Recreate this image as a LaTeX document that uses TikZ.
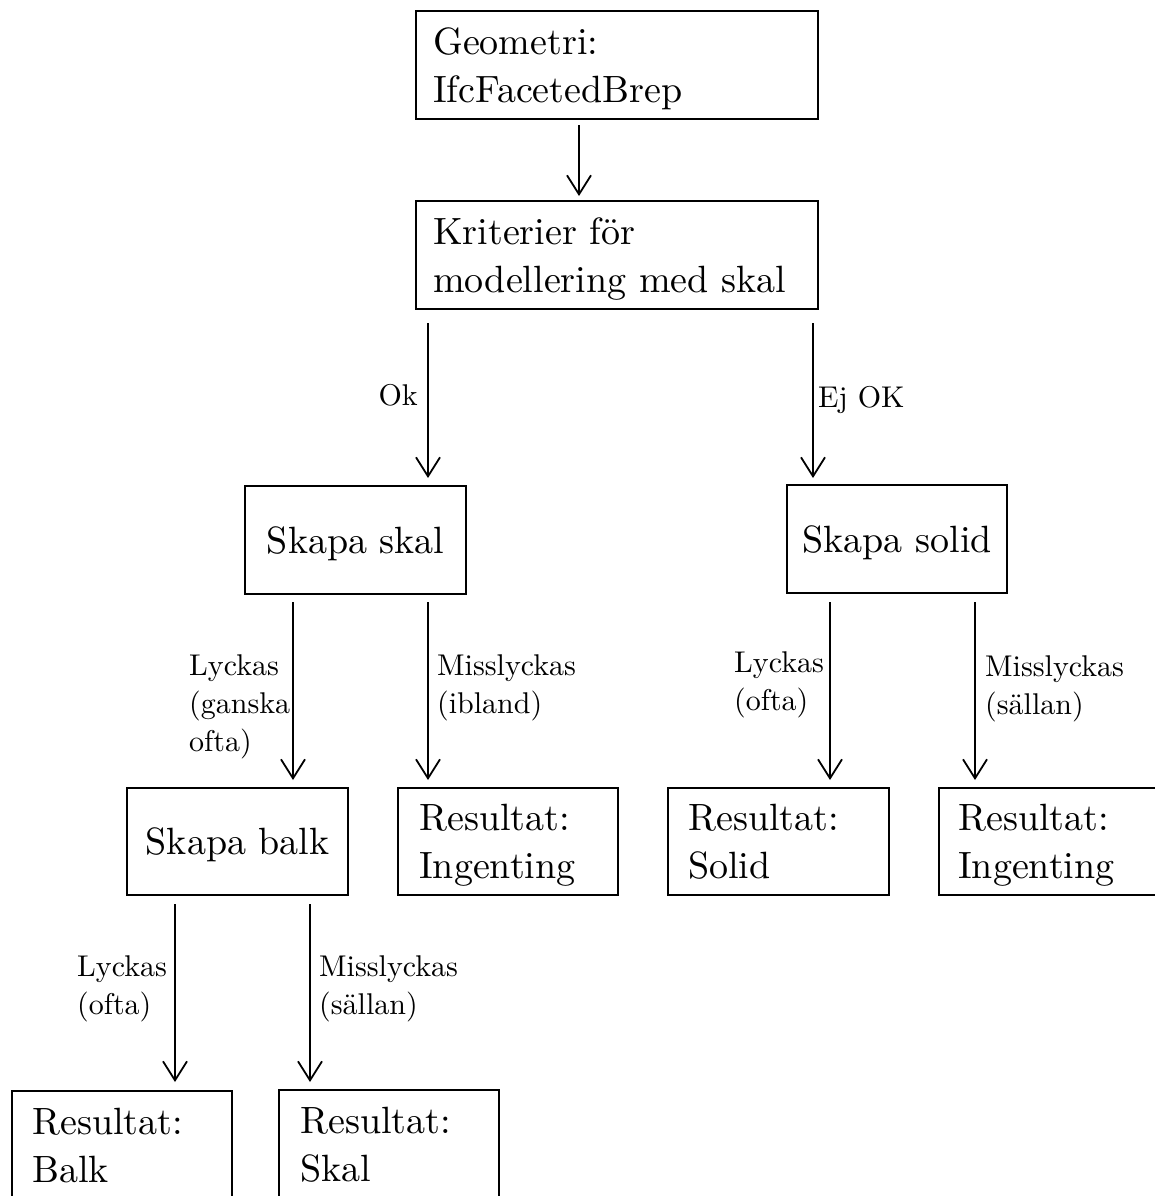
\documentclass[tikz,border=0pt]{standalone}
\usepackage{fontspec}
\setmainfont{lmroman10-regular}[Extension=.otf]
\usetikzlibrary{arrows.meta,calc}
% struts that fix the first baseline and the last depth of box texts
\newcommand\hiStrut{\rule{0pt}{36pt}}
\newcommand\loStrut{\rule[-10pt]{0pt}{10pt}}
\newcommand\lblStrut{\rule{0pt}{22pt}}
\begin{document}
\begin{tikzpicture}[x=1pt,y=-1pt,
  box/.style={draw, line width=2.4pt, anchor=north west, inner ysep=0pt,
    font=\fontsize{38}{48}\selectfont},
  leftbox/.style 2 args={box, align=left, inner xsep=#2, text width=#1-2*#2,
    minimum width=#1},
  midbox/.style={box, align=center, inner xsep=0pt},
  lbl/.style={inner sep=0pt, align=left, font=\fontsize{30}{38}\selectfont},
  arr/.style={line width=1.8pt, -{Straight Barb[length=19pt,width=24pt,line width=1.8pt]}}
]
\useasboundingbox (0,0) rectangle (1154,1196);

% boxes
\node[leftbox={402pt}{17pt}, minimum height=108pt] (geo) at (415,10)
  {\hiStrut Geometri:\\IfcFacetedBrep\loStrut};
\node[leftbox={402pt}{17pt}, minimum height=108pt] (kr) at (415,200)
  {\hiStrut Kriterier för\\modellering med skal\loStrut};
\node[midbox, minimum width=221pt, minimum height=108pt] (skal) at (244,485)
  {\hiStrut Skapa skal\loStrut};
\node[midbox, minimum width=220pt, minimum height=108pt] (solid) at (786,484)
  {\hiStrut Skapa solid\loStrut};
\node[midbox, minimum width=221pt, minimum height=107pt] (balk) at (126,787)
  {\hiStrut Skapa balk\loStrut};
\node[leftbox={220pt}{21pt}, minimum height=107pt] (ing1) at (397,787)
  {\hiStrut Resultat:\\Ingenting\loStrut};
\node[leftbox={221pt}{20pt}, minimum height=107pt] (sol) at (667,787)
  {\hiStrut Resultat:\\Solid\loStrut};
\node[leftbox={220pt}{19pt}, minimum height=107pt] (ing2) at (938,787)
  {\hiStrut Resultat:\\Ingenting\loStrut};
\node[leftbox={220pt}{20pt}, minimum height=108pt] (rbalk) at (11,1090)
  {\hiStrut Resultat:\\Balk\loStrut};
\node[leftbox={220pt}{21pt}, minimum height=108pt] (rskal) at (278,1089)
  {\hiStrut Resultat:\\Skal\loStrut};

% x positions of the connectors
\coordinate (xa) at (579,0);
\coordinate (xok) at (428,0);
\coordinate (xej) at (813,0);
\coordinate (xsb) at (293,0);
\coordinate (xsi) at (428,0);
\coordinate (xos) at (830,0);
\coordinate (xoi) at (975,0);
\coordinate (xbb) at (175,0);
\coordinate (xbs) at (310,0);

% connectors
\draw[arr] ($(geo.south -| xa)+(0,5)$) -- ($(kr.north -| xa)+(0,-4)$);
\draw[arr] ($(kr.south -| xok)+(0,13)$) -- ($(skal.north -| xok)+(0,-7)$);
\draw[arr] ($(kr.south -| xej)+(0,13)$) -- ($(solid.north -| xej)+(0,-6)$);
\draw[arr] ($(skal.south -| xsb)+(0,7)$) -- ($(balk.north -| xsb)+(0,-7)$);
\draw[arr] ($(skal.south -| xsi)+(0,7)$) -- ($(ing1.north -| xsi)+(0,-7)$);
\draw[arr] ($(solid.south -| xos)+(0,8)$) -- ($(sol.north -| xos)+(0,-7)$);
\draw[arr] ($(solid.south -| xoi)+(0,8)$) -- ($(ing2.north -| xoi)+(0,-7)$);
\draw[arr] ($(balk.south -| xbb)+(0,8)$) -- ($(rbalk.north -| xbb)+(0,-8)$);
\draw[arr] ($(balk.south -| xbs)+(0,8)$) -- ($(rskal.north -| xbs)+(0,-7)$);

% connector labels
\node[lbl, anchor=north east] (lok) at (418,383) {\lblStrut Ok};
\node[lbl, anchor=north west] (lej) at (818,385) {\lblStrut Ej OK};
\node[lbl, anchor=north west] (l1) at (189,653) {\lblStrut Lyckas\\(ganska\\ofta)};
\node[lbl, anchor=north west] (l2) at (437,653) {\lblStrut Misslyckas\\(ibland)};
\node[lbl, anchor=north west] (l3) at (734,650) {\lblStrut Lyckas\\(ofta)};
\node[lbl, anchor=north west] (l4) at (985,654) {\lblStrut Misslyckas\\(sällan)};
\node[lbl, anchor=north west] (l5) at (77,954) {\lblStrut Lyckas\\(ofta)};
\node[lbl, anchor=north west] (l6) at (319,954) {\lblStrut Misslyckas\\(sällan)};
\end{tikzpicture}
\end{document}
